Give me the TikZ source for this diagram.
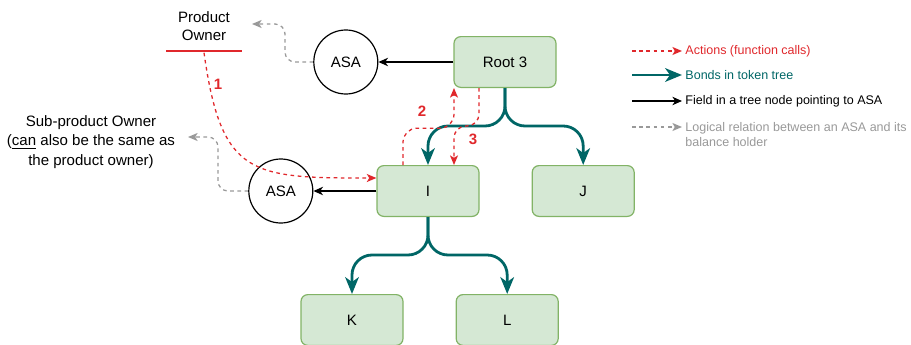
\documentclass[tikz,border=0pt]{standalone}
\usepackage{fontspec}
\setmainfont{Liberation Sans}
\usepackage{tikz}
\usetikzlibrary{arrows.meta}
\usetikzlibrary{positioning}

\definecolor{treefill}{HTML}{D5E8D4}
\definecolor{treeline}{HTML}{82B366}
\definecolor{bondteal}{HTML}{006666}
\definecolor{actred}{HTML}{E0282C}
\definecolor{loggray}{HTML}{999999}

\begin{document}
\begin{tikzpicture}[
    font=\fontsize{10.7}{13.2}\selectfont,
    treenode/.style={draw=treeline, fill=treefill, line width=0.03cm,
        rounded corners=0.17cm, minimum width=2.55cm, minimum height=1.27cm},
    asanode/.style={draw, circle, line width=0.03cm, minimum size=1.6cm, inner sep=0},
    bond/.style={draw=bondteal, line width=0.07cm, rounded corners=0.5cm,
        -{Stealth[length=0.42cm, width=0.34cm, inset=0.12cm]}},
    field/.style={draw=black, line width=0.032cm,
        -{Stealth[length=0.24cm, width=0.21cm, inset=0.07cm]}},
    action/.style={draw=actred, line width=0.032cm, dash pattern=on 0.09cm off 0.09cm,
        -{Stealth[length=0.24cm, width=0.2cm, inset=0.06cm]}},
    logical/.style={draw=loggray, line width=0.032cm, dash pattern=on 0.09cm off 0.09cm,
        -{Stealth[length=0.24cm, width=0.2cm, inset=0.06cm]}},
    steplabel/.style={text=actred, font=\fontsize{10.7}{13}\selectfont\bfseries},
    legendtext/.style={inner sep=0, font=\fontsize{8.9}{10.7}\selectfont, align=left},
]

\useasboundingbox (0,0) rectangle (22.775,-8.6);

\node [treenode] (root_3) at (12.625,-1.55) {Root 3};

\node [treenode,
    below=1.925cm of root_3,
    xshift=-1.925cm
] (node_i) {I};

\node [treenode,
    right=1.3cm of node_i
] (node_j) {J};

\node [treenode,
    below=1.925cm of node_i,
    xshift=-1.9cm
] (node_k) {K};

\node [treenode,
    right=1.3cm of node_k
] (node_l) {L};

\node [asanode,
    left=1.875cm of root_3
] (asa_root) {ASA};

\node [asanode,
    left=1.575cm of node_i
] (asa_i) {ASA};

\node [align=center] (product_owner) at (5.1,-0.65) {Product\\Owner};

\node [fill=actred,
    inner sep=0,
    minimum width=1.9cm,
    minimum height=0.07cm,
    below=0.09cm of product_owner
] (owner_bar) {};

\node [align=center,
    font=\fontsize{10.7}{13.6}\selectfont
] (sub_owner) at (2.275,-3.55) {Sub-product Owner\\(\underline{can} also be the same as\\the product owner)};

\coordinate (owner_pt) at (6.3,-0.6);
\coordinate (sub_owner_pt) at (4.7,-3.425);

% bonds
\draw [bond] (root_3.south) -- ++(0,-0.95) -| (node_i.north);
\draw [bond] (root_3.south) -- ++(0,-0.95) -| (node_j.north);
\draw [bond] (node_i.south) -- ++(0,-0.95) -| (node_k.north);
\draw [bond] (node_i.south) -- ++(0,-0.95) -| (node_l.north);

% fields
\draw [field] (root_3.west) -- (asa_root.east);
\draw [field] (node_i.west) -- (asa_i.east);

% balance holders
\draw [logical, rounded corners=0.25cm] (asa_root.west) -| ([xshift=0.825cm]owner_pt) -- (owner_pt);
\draw [logical, rounded corners=0.25cm] (asa_i.west) -| ([xshift=0.75cm]sub_owner_pt) -- (sub_owner_pt);

% actions
\draw [action] (owner_bar.south) to [out=-82, in=180, looseness=1.5] ([yshift=0.325cm]node_i.west);
\draw [action, rounded corners=0.35cm] ([xshift=-0.625cm]node_i.north) -- ++(0,0.92) -| ([xshift=-1.275cm]root_3.south);
\draw [action, rounded corners=0.3cm] ([xshift=-0.65cm]root_3.south) -- ++(0,-0.95) -| ([xshift=0.65cm]node_i.north);

\node [steplabel] (step_1) at (5.45,-2.1) {1};
\node [steplabel] (step_2) at (10.55,-2.775) {2};
\node [steplabel] (step_3) at (11.825,-3.475) {3};

% legend
\coordinate (legend_action_from) at (15.8,-1.275);
\coordinate (legend_action_to) at (17.05,-1.275);
\coordinate (legend_bond_from) at (15.8,-1.875);
\coordinate (legend_bond_to) at (17.05,-1.875);
\coordinate (legend_field_from) at (15.8,-2.525);
\coordinate (legend_field_to) at (17.05,-2.525);
\coordinate (legend_logical_from) at (15.8,-3.175);
\coordinate (legend_logical_to) at (17.05,-3.175);

\node [legendtext, text=actred, right=0.08cm of legend_action_to] (legend_action) {Actions (function calls)};
\node [legendtext, text=bondteal, right=0.08cm of legend_bond_to] (legend_bond) {Bonds in token tree};
\node [legendtext, right=0.08cm of legend_field_to] (legend_field) {Field in a tree node pointing to ASA};
\node [legendtext, text=loggray,
    right=0.08cm of legend_logical_to,
    yshift=-0.19cm
] (legend_logical) {Logical relation between an ASA and its\\balance holder};

\draw [action] (legend_action_from) -- (legend_action_to);
\draw [bond] (legend_bond_from) -- (legend_bond_to);
\draw [field] (legend_field_from) -- (legend_field_to);
\draw [logical] (legend_logical_from) -- (legend_logical_to);

\end{tikzpicture}
\end{document}
